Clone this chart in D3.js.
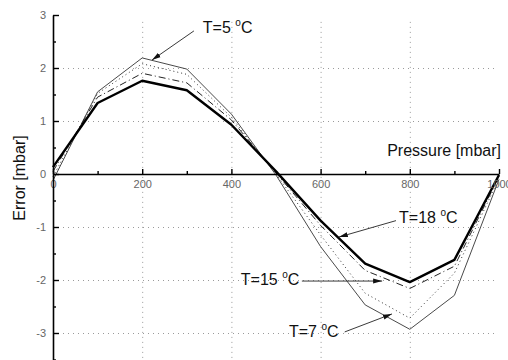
<!DOCTYPE html>
<html>
<head>
<meta charset="utf-8">
<script src="https://cdn.jsdelivr.net/npm/d3@7"></script>
<style>
  html, body { margin: 0; padding: 0; background: #fff; }
  svg { display: block; font-family: "Liberation Sans", Arial, sans-serif; }
</style>
</head>
<body>
<svg id="chart" width="508" height="360"></svg>
<script>
// ---- data ----
const pressure = [0, 100, 200, 300, 400, 500, 600, 700, 800, 900, 1000];
const errT18 = [0.13, 1.34, 1.76, 1.58, 0.93, 0.05, -0.88, -1.69, -2.04, -1.62, -0.02];
const errT15 = [0.05, 1.45, 1.90, 1.72, 1.02, 0.02, -0.97, -1.82, -2.16, -1.74, -0.05];
const errT7  = [-0.05, 1.52, 2.08, 1.88, 1.07, 0.00, -1.15, -2.25, -2.72, -1.87, -0.08];
const errT5  = [-0.12, 1.55, 2.19, 1.98, 1.13, -0.02, -1.37, -2.47, -2.93, -2.29, -0.10];
const xTicks = [0, 200, 400, 600, 800, 1000];
const xMinorTicks = [100, 300, 500, 700, 900];
const yTicks = [-3, -2, -1, 0, 1, 2, 3];
const yMinorTicks = [-3.5, -2.5, -1.5, -0.5, 0.5, 1.5, 2.5];
const xGrid = [200, 400, 600, 800];
const yGrid = [-3, -2, -1, 1, 2];
const labelNames = ["T=5 ", "T=18 ", "T=15 ", "T=7 "];
// annotation anchors in data units: text start, arrow start, arrow tip
const annText  = [[336, 2.66], [776, -0.92], [421, -2.09], [529, -3.08]];
const annFrom  = [[316, 2.70], [769, -0.88], [558, -2.02], [654, -2.98]];
const annTip   = [[222, 2.15], [641, -1.19], [738, -2.02], [760, -2.64]];

// ---- scales ----
const svg = d3.select("#chart");
const x = d3.scaleLinear().domain([0, 1000]).range([53, 499]);
const y = d3.scaleLinear().domain([-3.5, 3]).range([359.5, 15]);

svg.append("rect").attr("width", 508).attr("height", 360).attr("fill", "#fff");

// grid
const grid = svg.append("g").attr("stroke", "#9a9a9a").attr("stroke-width", 1)
  .attr("stroke-dasharray", "1,4");
grid.selectAll("line.v").data(xGrid).join("line").attr("class", "v")
  .attr("x1", d => x(d) + 0.5).attr("x2", d => x(d) + 0.5)
  .attr("y1", y(2.87)).attr("y2", 360);
grid.selectAll("line.h").data(yGrid).join("line").attr("class", "h")
  .attr("x1", x(0)).attr("x2", x(996))
  .attr("y1", d => y(d) + 0.5).attr("y2", d => y(d) + 0.5);

// series
const line = d3.line().x((d, i) => x(pressure[i])).y(d => y(d));
const series = [
  { v: errT5,  stroke: "#4a4a4a", w: 1,   dash: null },
  { v: errT7,  stroke: "#333",    w: 1,   dash: "1,3" },
  { v: errT15, stroke: "#222",    w: 1,   dash: "7,3,1,3" },
  { v: errT18, stroke: "#000",    w: 2.4, dash: null }
];
svg.append("g").selectAll("path").data(series).join("path")
  .attr("d", d => line(d.v))
  .attr("fill", "none")
  .attr("stroke", d => d.stroke)
  .attr("stroke-width", d => d.w)
  .attr("stroke-dasharray", d => d.dash)
  .attr("stroke-linejoin", "round");

// axes
const fmt = d => String(d);
const xAxis = svg.append("g").attr("transform", `translate(0,${y(0)})`)
  .call(d3.axisBottom(x).tickValues(xTicks).tickSize(-5).tickSizeOuter(0).tickPadding(6).tickFormat(fmt));
svg.append("g").attr("transform", `translate(0,${y(0)})`)
  .call(d3.axisBottom(x).tickValues(xMinorTicks).tickSize(-3).tickFormat(""))
  .select(".domain").remove();
const yAxis = svg.append("g").attr("transform", `translate(${x(0)},0)`)
  .call(d3.axisLeft(y).tickValues(yTicks).tickSize(-6).tickSizeOuter(0).tickPadding(7).tickFormat(fmt));
svg.append("g").attr("transform", `translate(${x(0)},0)`)
  .call(d3.axisLeft(y).tickValues(yMinorTicks).tickSize(-3).tickFormat(""))
  .select(".domain").remove();

svg.selectAll(".domain").attr("stroke", "#000").attr("stroke-width", 1.6);
svg.selectAll(".tick line").attr("stroke", "#000").attr("stroke-width", 1.4);
svg.selectAll(".tick text").attr("fill", "#666").attr("font-size", 11)
  .attr("font-family", "\"Liberation Sans\", Arial, sans-serif");

// axis titles
svg.append("text").attr("x", 501).attr("y", 156).attr("text-anchor", "end")
  .attr("font-size", 16).attr("fill", "#111").text("Pressure [mbar]");
svg.append("text").attr("transform", "translate(25,178) rotate(-90)")
  .attr("text-anchor", "middle").attr("font-size", 16).attr("fill", "#111")
  .text("Error [mbar]");

// annotations
svg.append("defs").append("marker")
  .attr("id", "ah").attr("markerUnits", "userSpaceOnUse")
  .attr("markerWidth", 10).attr("markerHeight", 6)
  .attr("refX", 9).attr("refY", 3).attr("orient", "auto")
  .append("path").attr("d", "M0,0.5 L9,3 L0,5.5 Z").attr("fill", "#111");

const ann = svg.append("g");
labelNames.forEach((name, i) => {
  ann.append("line")
    .attr("x1", x(annFrom[i][0])).attr("y1", y(annFrom[i][1]))
    .attr("x2", x(annTip[i][0])).attr("y2", y(annTip[i][1]))
    .attr("stroke", "#222").attr("stroke-width", 0.9)
    .attr("marker-end", "url(#ah)");
  const t = ann.append("text")
    .attr("x", x(annText[i][0])).attr("y", y(annText[i][1]))
    .attr("font-size", 16).attr("fill", "#111");
  t.append("tspan").text(name);
  t.append("tspan").attr("font-size", 10).attr("dy", -7).text("o");
  t.append("tspan").attr("dy", 7).text("C");
});
</script>
</body>
</html>
